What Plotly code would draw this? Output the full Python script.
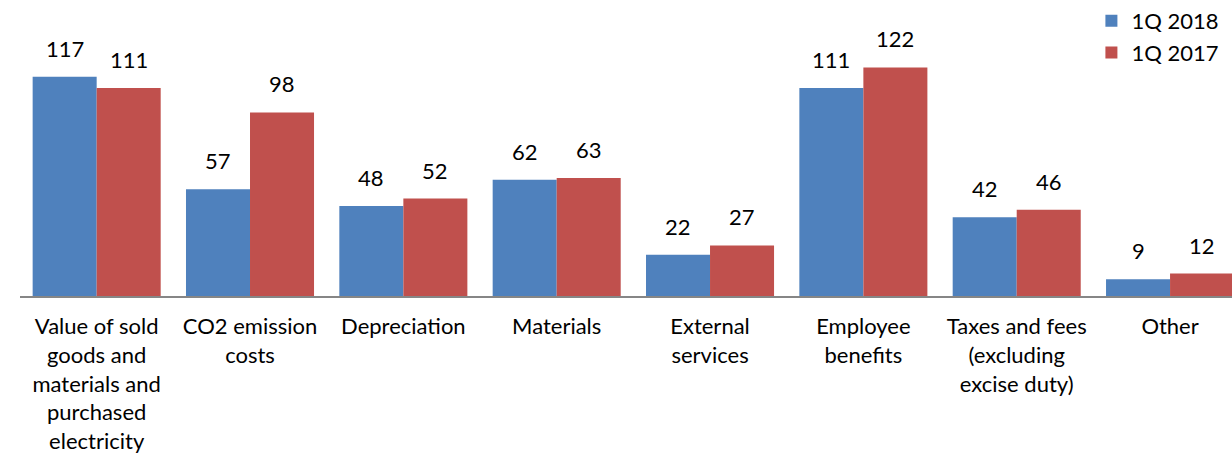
import plotly.graph_objects as go

# Cost categories (line breaks as printed under each group)
categories = [
    "Value of sold<br>goods and<br>materials and<br>purchased<br>electricity",
    "CO2 emission<br>costs",
    "Depreciation",
    "Materials",
    "External<br>services",
    "Employee<br>benefits",
    "Taxes and fees<br>(excluding<br>excise duty)",
    "Other",
]
q1_2018 = [117, 57, 48, 62, 22, 111, 42, 9]
q1_2017 = [111, 98, 52, 63, 27, 122, 46, 12]

BLUE = "#4F81BD"
RED = "#C0504D"
FONT = "Lato, 'Open Sans', sans-serif"
FSIZE = 22

x = list(range(len(categories)))
bargap = 0.165
half = (1 - bargap) / 4  # offset of each bar centre from the group centre

fig = go.Figure()
fig.add_trace(go.Bar(x=x, y=q1_2018, name="1Q 2018", marker=dict(color=BLUE, line=dict(width=0))))
fig.add_trace(go.Bar(x=x, y=q1_2017, name="1Q 2017", marker=dict(color=RED, line=dict(width=0))))

annotations = []
for i in x:
    for val, dx in ((q1_2018[i], -half), (q1_2017[i], half)):
        annotations.append(dict(
            x=i + dx, y=val, text=str(val), showarrow=False,
            yanchor="bottom", yshift=13, font=dict(size=FSIZE, color="#000000", family=FONT),
        ))

fig.update_layout(
    width=1232, height=454,
    margin=dict(l=20, r=0, t=40, b=158),
    barmode="group", bargap=bargap, bargroupgap=0,
    plot_bgcolor="white", paper_bgcolor="white",
    font=dict(family=FONT, size=FSIZE, color="#000000"),
    showlegend=True,
    legend=dict(
        x=0.884, xanchor="left", y=1.175, yanchor="top",
        font=dict(size=FSIZE, color="#000000", family=FONT),
        bgcolor="rgba(0,0,0,0)", tracegroupgap=0, itemwidth=30,
    ),
    annotations=annotations,
)
fig.update_xaxes(
    range=[-0.5, 7.404], tickmode="array", tickvals=x, ticktext=categories,
    showline=True, linecolor="#868686", linewidth=2, showgrid=False,
    ticks="", ticklabelstandoff=10, tickfont=dict(size=FSIZE, family=FONT),
    zeroline=False,
)
fig.update_yaxes(range=[0, 134.5], visible=False, showgrid=False, zeroline=False)

fig.write_html("out.html")
